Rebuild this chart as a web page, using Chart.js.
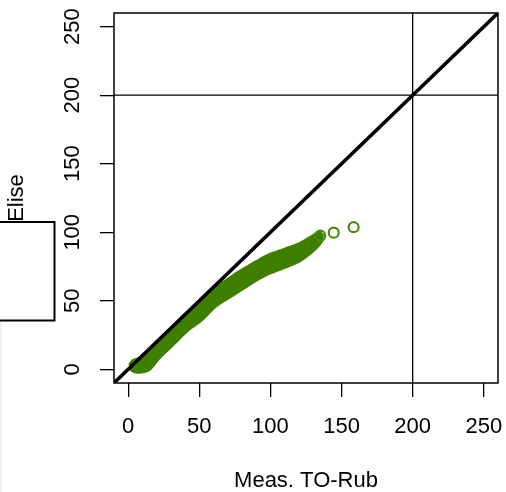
<!DOCTYPE html>
<html>
<head>
<meta charset="utf-8">
<script src="https://cdn.jsdelivr.net/npm/chart.js@4.4.1/dist/chart.umd.min.js"></script>
<style>
  body { margin: 0; background: #fff; }
  canvas { display: block; }
</style>
</head>
<body>
<canvas id="qq" width="506" height="492"></canvas>
<script>
const tickValues = [0, 50, 100, 150, 200, 250];
const axisMin = -10;
const axisMax = 260;

// spread of the dense point cloud (upper / lower edge at each x)
const bandX = [0.5, 3, 8, 15, 22, 30, 43, 51, 62, 74, 86, 97, 110, 121, 130, 134, 137.5];
const bandUpper = [3, 6.5, 8.5, 14, 21, 29, 42, 50, 60, 69, 76.5, 83, 88, 92.5, 98, 100.5, 97.5];
const bandLower = [1.5, -1.5, -2.5, -0.5, 8, 16, 29, 35, 46, 54, 62, 68.5, 74, 79, 86, 90, 95];

// the separate points at the top end
const tailX = [135, 144.5, 158.5];
const tailY = [97.5, 99.7, 103.7];

const refValue = 200;

const green = "#3f7f00";
const FONT = "'Liberation Sans', Arial, sans-serif";

const toPts = (xs, ys) => xs.map((x, i) => ({ x: x, y: ys[i] }));

// extra bits: box around plot, rotated y labels, cut-off box at the left
const decorPlugin = {
  id: "decor",
  beforeDraw(chart) {
    const c = chart.ctx;
    c.save();
    c.fillStyle = "#fff";
    c.fillRect(0, 0, chart.width, chart.height);
    c.fillStyle = "#f4f0e4";
    c.fillRect(0, 321, 2, 171);
    c.restore();
  },
  afterDraw(chart) {
    const c = chart.ctx;
    const a = chart.chartArea;
    const ys = chart.scales.y;
    c.save();
    c.strokeStyle = "#000";
    c.lineWidth = 1.5;
    c.strokeRect(a.left, a.top, a.right - a.left, a.bottom - a.top);

    // y tick labels, parallel to the axis like R does
    c.fillStyle = "#000";
    c.font = "22px " + FONT;
    c.textAlign = "center";
    c.textBaseline = "middle";
    tickValues.forEach(v => {
      const py = ys.getPixelForValue(v);
      c.save();
      c.translate(73, py);
      c.rotate(-Math.PI / 2);
      c.fillText(String(v), 0, 0);
      c.restore();
    });

    // partial white box on the left edge
    c.lineWidth = 2;
    c.strokeRect(-2, 222, 56.5, 98.5);
    c.restore();
  }
};

new Chart(document.getElementById("qq"), {
  type: "line",
  data: {
    datasets: [
      {
        // y = x
        data: [{ x: axisMin, y: axisMin }, { x: axisMax, y: axisMax }],
        borderColor: "#000",
        borderWidth: 3.5,
        pointRadius: 0,
        fill: false
      },
      {
        data: [{ x: axisMin, y: refValue }, { x: axisMax, y: refValue }],
        borderColor: "#000",
        borderWidth: 1.3,
        pointRadius: 0,
        fill: false
      },
      {
        data: [{ x: refValue, y: axisMin }, { x: refValue, y: axisMax }],
        borderColor: "#000",
        borderWidth: 1.3,
        pointRadius: 0,
        fill: false
      },
      {
        data: toPts(tailX, tailY),
        showLine: false,
        pointRadius: 5,
        pointBorderWidth: 2.2,
        pointBorderColor: "#4a8c12",
        pointBackgroundColor: "rgba(0,0,0,0)",
        fill: false
      },
      {
        data: toPts(bandX, bandLower),
        borderColor: green,
        borderWidth: 2,
        pointRadius: 0,
        tension: 0.3,
        fill: false
      },
      {
        data: toPts(bandX, bandUpper),
        borderColor: green,
        backgroundColor: green,
        borderWidth: 2,
        pointRadius: 0,
        tension: 0.3,
        fill: "-1"
      }
    ]
  },
  options: {
    responsive: false,
    animation: false,
    devicePixelRatio: 1,
    layout: { padding: { top: 13, right: 8, left: 0, bottom: 0 } },
    plugins: { legend: { display: false }, tooltip: { enabled: false } },
    scales: {
      x: {
        type: "linear",
        min: axisMin,
        max: axisMax,
        afterBuildTicks: s => { s.ticks = tickValues.map(v => ({ value: v })); },
        afterFit: s => { s.height = 109; s.paddingLeft = 0; s.paddingRight = 0; },
        border: { display: false },
        grid: { drawOnChartArea: false, drawTicks: true, tickLength: 14, color: "#000", lineWidth: 1.3 },
        ticks: { color: "#000", font: { family: FONT, size: 22 }, padding: 17, maxRotation: 0, autoSkip: false },
        title: {
          display: true,
          text: "Meas. TO-Rub",
          color: "#000",
          font: { family: FONT, size: 22, lineHeight: 1 },
          padding: { top: 0, bottom: 0 }
        }
      },
      y: {
        type: "linear",
        min: axisMin,
        max: axisMax,
        afterBuildTicks: s => { s.ticks = tickValues.map(v => ({ value: v })); },
        afterFit: s => { s.width = 114; s.paddingTop = 0; s.paddingBottom = 0; },
        border: { display: false },
        grid: { drawOnChartArea: false, drawTicks: true, tickLength: 14, color: "#000", lineWidth: 1.3 },
        ticks: { color: "rgba(0,0,0,0)", font: { family: FONT, size: 22 }, autoSkip: false },
        title: {
          display: true,
          text: "Elise",
          color: "#000",
          font: { family: FONT, size: 22, lineHeight: 1 },
          padding: { top: 6, bottom: 0 }
        }
      }
    }
  },
  plugins: [decorPlugin]
});
</script>
</body>
</html>
